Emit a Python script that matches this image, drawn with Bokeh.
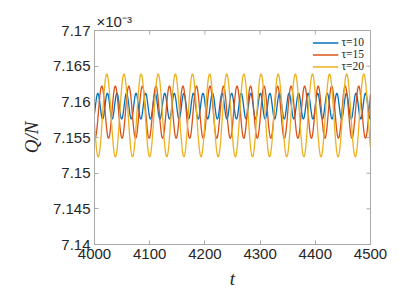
import numpy as np
from bokeh.plotting import figure
from bokeh.models import (FixedTicker, CustomJSTickFormatter, Title,
                          Legend, LegendItem)
from bokeh.embed import file_html
from bokeh.resources import INLINE

# ---- data ----
tau_values = [10, 15, 20]
legend_labels = ["τ=10", "τ=15", "τ=20"]
series_colors = ["#0072BD", "#D95319", "#EDB120"]
mean_level = [7.1594, 7.15855, 7.1581]      # x10^-3
amplitude = [0.0018, 0.00365, 0.0058]
period = [17.32, 24.5, 31.04]
first_peak_t = [4006.0, 4013.2, 4022.3]

t_start, t_end = 4000, 4500
y_lo, y_hi = 7.14, 7.17
x_ticks = [4000, 4100, 4200, 4300, 4400, 4500]
y_ticks = [7.14, 7.145, 7.15, 7.155, 7.16, 7.165, 7.17]
y_tick_labels = ["7.14", "7.145", "7.15", "7.155", "7.16", "7.165", "7.17"]

FRAME = "#a8a8a8"
TXT = "#262626"

p = figure(width=416, height=291, x_range=(t_start, t_end), y_range=(y_lo, y_hi),
           output_backend="svg", toolbar_location=None,
           min_border_left=94, min_border_right=46, min_border_top=30, min_border_bottom=47)
p.xgrid.visible = False
p.ygrid.visible = False
p.outline_line_color = FRAME
p.outline_line_width = 1
p.background_fill_color = "white"
p.border_fill_color = "white"

t = np.linspace(t_start, t_end, 2001)
renderers = []
for i in range(3):
    q = mean_level[i] + amplitude[i] * np.cos(2 * np.pi * (t - first_peak_t[i]) / period[i])
    r = p.line(t, q, line_color=series_colors[i], line_width=1.3)
    renderers.append(r)

# inward ticks on the top and right edges of the box (half of each dash is clipped by the frame)
p.scatter(x_ticks, [y_hi] * len(x_ticks), marker="dash", size=8, angle=np.pi / 2,
          line_color=FRAME, line_width=1)
p.scatter([t_end] * len(y_ticks), y_ticks, marker="dash", size=8, angle=0,
          line_color=FRAME, line_width=1)

fmt_y = CustomJSTickFormatter(args=dict(vals=y_ticks, labs=y_tick_labels), code="""
let best = 0;
for (let i = 0; i < vals.length; i++) {
  if (Math.abs(vals[i] - tick) < Math.abs(vals[best] - tick)) best = i;
}
return labs[best];
""")

def style_axis(ax):
    ax.axis_line_color = FRAME
    ax.major_tick_line_color = FRAME
    ax.major_tick_in = 4
    ax.major_tick_out = 0
    ax.minor_tick_line_color = None
    ax.major_label_text_font = "Liberation Sans"
    ax.major_label_text_font_size = "15px"
    ax.major_label_text_color = TXT

xa = p.xaxis[0]
xa.ticker = FixedTicker(ticks=x_ticks)
style_axis(xa)
xa.major_label_standoff = 4
xa.axis_label = "t"
xa.axis_label_text_font = "Liberation Serif"
xa.axis_label_text_font_style = "italic"
xa.axis_label_text_font_size = "19px"
xa.axis_label_text_color = TXT
xa.axis_label_standoff = 6

ya = p.yaxis[0]
ya.ticker = FixedTicker(ticks=y_ticks)
ya.formatter = fmt_y
style_axis(ya)
ya.major_label_standoff = 4
ya.axis_label = "Q/N"
ya.axis_label_text_font = "Liberation Serif"
ya.axis_label_text_font_style = "italic"
ya.axis_label_text_font_size = "19px"
ya.axis_label_text_color = TXT
ya.axis_label_standoff = 8

exp_title = Title(text="×10⁻³", align="left", text_font="Liberation Sans",
                  text_font_size="15px", text_font_style="normal",
                  text_color=TXT, standoff=2, offset=2)
p.add_layout(exp_title, "above")

legend = Legend(items=[LegendItem(label=legend_labels[i], renderers=[renderers[i]]) for i in range(3)],
                location="top_right")
legend.border_line_color = None
legend.background_fill_alpha = 0
legend.label_text_font = "Liberation Serif"
legend.label_text_font_size = "11.5px"
legend.label_text_color = TXT
legend.glyph_width = 26
legend.glyph_height = 11
legend.label_height = 11
legend.spacing = 0
legend.label_standoff = 3
legend.padding = 3
legend.margin = 6
p.add_layout(legend)

open("out.html", "w").write(file_html(p, INLINE))
